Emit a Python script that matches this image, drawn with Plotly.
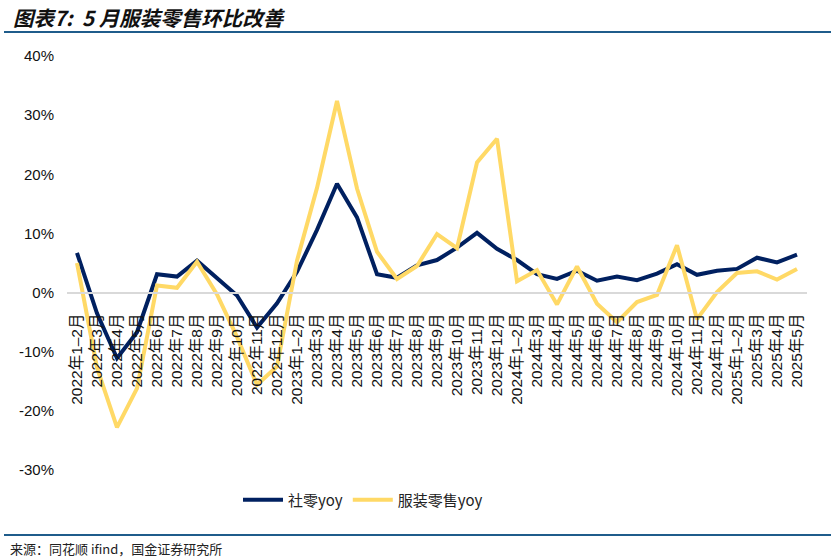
import plotly.graph_objects as go

# 数据
months = ["1–2月", "3月", "4月", "5月", "6月", "7月", "8月", "9月", "10月", "11月", "12月"]
categories = [f"{y}年{m}" for y in (2022, 2023, 2024) for m in months]
categories += ["2025年1–2月", "2025年3月", "2025年4月", "2025年5月"]

retail_yoy = [6.7, -3.5, -11.1, -6.7, 3.1, 2.7, 5.4, 2.5, -0.5, -5.9, -1.8,
              3.5, 10.6, 18.4, 12.7, 3.1, 2.5, 4.6, 5.5, 7.6, 10.1, 7.4,
              5.5, 3.1, 2.3, 3.7, 2.0, 2.7, 2.1, 3.2, 4.8, 3.0, 3.7,
              4.0, 5.9, 5.1, 6.4]
apparel_yoy = [5.0, -12.7, -22.8, -16.2, 1.2, 0.8, 5.2, -0.3, -7.5, -15.6, -12.5,
               5.4, 17.7, 32.4, 17.6, 6.9, 2.3, 4.5, 9.9, 7.5, 22.0, 26.0,
               1.9, 3.8, -2.0, 4.4, -1.9, -5.0, -1.6, -0.4, 8.0, -4.5, 0.1,
               3.3, 3.6, 2.2, 4.0]

y_ticks = [-30, -20, -10, 0, 10, 20, 30, 40]
y_min, y_max = -30, 40

W, H = 831, 560
plot_l, plot_r, plot_t, plot_b = 67, 807, 56, 470
ml, mr, mt, mb = plot_l, W - plot_r, plot_t, H - plot_b
pw, ph = W - ml - mr, H - mt - mb


def px_x(p):
    return (p - ml) / pw


def px_y(p):
    return (H - mb - p) / ph


cjk = "Noto Sans CJK SC"
fig = go.Figure()
fig.add_trace(go.Scatter(x=categories, y=retail_yoy, name="社零yoy", mode="lines",
                         line=dict(color="#002060", width=4)))
fig.add_trace(go.Scatter(x=categories, y=apparel_yoy, name="服装零售yoy", mode="lines",
                         line=dict(color="#FFD966", width=4)))

fig.update_layout(
    width=W, height=H,
    margin=dict(l=ml, r=mr, t=mt, b=mb),
    paper_bgcolor="white", plot_bgcolor="white",
    showlegend=True,
    legend=dict(orientation="h", x=px_x(363), xanchor="center", y=px_y(500), yanchor="middle",
                font=dict(family=cjk, size=15, color="#222222"), itemwidth=40),
    xaxis=dict(type="category", range=[-0.5, len(categories) - 0.5],
               anchor="free", position=(0 - y_min) / (y_max - y_min),
               showgrid=False, showline=True, linecolor="#d9d9d9", linewidth=1.5,
               ticks="", tickangle=-90, ticklabelstandoff=14,
               tickfont=dict(family="Liberation Sans, " + cjk, size=15.5, color="#111111")),
    yaxis=dict(range=[y_min, y_max], tickvals=y_ticks, ticktext=[f"{v}%" for v in y_ticks],
               showgrid=False, zeroline=False, showline=False, ticks="",
               ticklabelstandoff=12,
               tickfont=dict(family="Liberation Sans", size=15, color="#111111")),
    font=dict(family=cjk),
    hovermode=False,
)

# 标题、来源
fig.add_annotation(text="<b><i>图表7:  5 月服装零售环比改善</i></b>", xref="paper", yref="paper",
                   x=px_x(11), y=px_y(17), xanchor="left", yanchor="middle", showarrow=False,
                   font=dict(family=cjk, size=20.5, color="#111111"))
fig.add_annotation(text="来源：同花顺 ifind，国金证券研究所", xref="paper", yref="paper",
                   x=px_x(8), y=px_y(548), xanchor="left", yanchor="middle", showarrow=False,
                   font=dict(family=cjk, size=13, color="#222222"))

for yy in (32, 535):
    fig.add_shape(type="line", xref="paper", yref="paper", x0=px_x(4), x1=px_x(831),
                  y0=px_y(yy), y1=px_y(yy), line=dict(color="#1F5C8B", width=2))

# 去掉页面默认外边距
fig.write_html("out.html", config={"displayModeBar": False},
               post_script="document.body.style.margin='0';")
